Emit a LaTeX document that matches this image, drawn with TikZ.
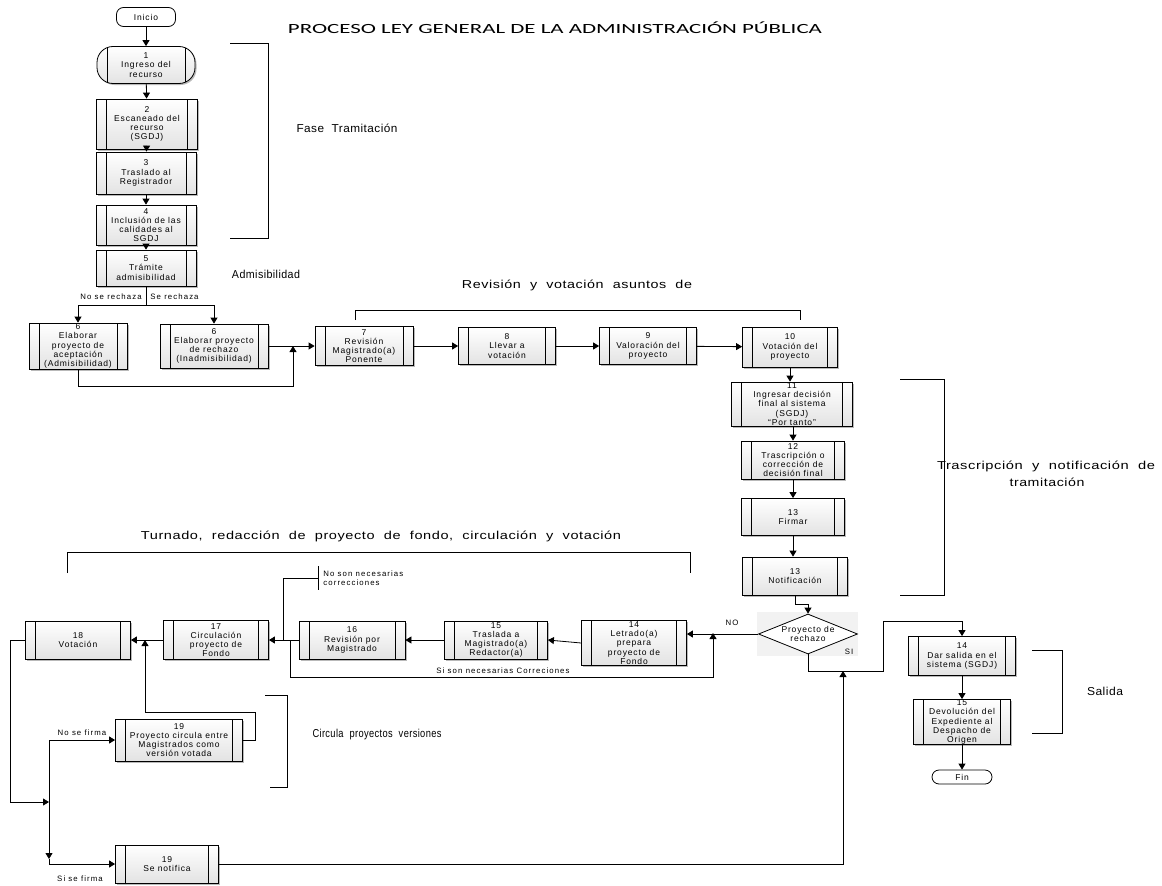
\documentclass[tikz,border=0pt]{standalone}
\usepackage{fontspec}
\setmainfont{Liberation Sans}
\newfontfamily\titlefont{Carlito}
\newfontfamily\labfont[WordSpace=2,LetterSpace=4]{Liberation Sans}
\usetikzlibrary{arrows.meta,shapes.geometric,shadows,calc}
\newcommand{\fitw}[2]{\resizebox{#1}{\height}{#2}}
\tikzset{
  arr/.style={-{Triangle[width=7pt,length=6pt]}},
  sub/.style={draw, line width=0.8pt, top color=white, bottom color=gray!22,
    drop shadow={shadow xshift=1.5pt, shadow yshift=-1.5pt, fill=gray!55, opacity=1},
    inner sep=0pt, align=center, font=\fontsize{8.5}{9.2}\selectfont\addfontfeatures{LetterSpace=10},
    path picture={
      \draw[line width=0.8pt] ([xshift=10pt]path picture bounding box.north west) -- ([xshift=10pt]path picture bounding box.south west);
      \draw[line width=0.8pt] ([xshift=-10pt]path picture bounding box.north east) -- ([xshift=-10pt]path picture bounding box.south east);}},
  term/.style={draw, line width=0.8pt, rounded corners=7pt, fill=white, inner sep=0pt,
    font=\fontsize{8.5}{9}\selectfont\addfontfeatures{LetterSpace=10}},
  dec/.style={draw, line width=0.8pt, diamond, aspect=2.5, inner sep=0pt, fill=white, align=center,
    font=\fontsize{8.5}{9.2}\selectfont\addfontfeatures{LetterSpace=10}},
  lab/.style={font=\labfont\fontsize{11.5}{13}\selectfont, align=center, inner sep=0pt},
  sm/.style={font=\fontsize{7.8}{8.5}\selectfont\addfontfeatures{LetterSpace=14}, inner sep=1pt},
}
\begin{document}
\begin{tikzpicture}[x=1pt,y=-1pt,line width=0.8pt]
\useasboundingbox (0,0) rectangle (1162,886);
% title and labels
\node[font=\titlefont\fontsize{14}{16}\selectfont, inner sep=0pt] (title) at (555,28) {\fitw{534pt}{PROCESO LEY GENERAL DE LA ADMINISTRACIÓN PÚBLICA}};
\node[lab] (lfase) at (347,128) {\fitw{101pt}{Fase Tramitación}};
\node[lab] (ladm) at (266,274) {\fitw{68pt}{Admisibilidad}};
\node[lab] (lrev) at (577,285) {\fitw{230pt}{Revisión y votación asuntos de}};
\node[lab] (ltras) at (1046,466) {\fitw{218pt}{Trascripción y notificación de}};
\node[lab] (ltras2) at (1047,482) {\fitw{75pt}{tramitación}};
\node[lab] (ltur) at (381,536) {\fitw{480pt}{Turnado, redacción de proyecto de fondo, circulación y votación}};
\node[lab] (lcirc) at (377,735) {\fitw{129pt}{Circula proyectos versiones}};
\node[lab] (lsal) at (1105,691) {\fitw{36pt}{Salida}};
% brackets
\draw (230,43) -- (268,43) -- (268,238) -- (230,238);
\draw (355,320) -- (355,310) -- (800,310) -- (800,320);
\draw (900,379) -- (944,379) -- (944,595) -- (900,595);
\draw (67,573) -- (67,552) -- (690,552) -- (690,573);
\draw (265,695) -- (287,695) -- (287,787) -- (270,787);
\draw (1032,650) -- (1062,650) -- (1062,733) -- (1032,733);
% nodes
\node[term, minimum width=59, minimum height=19] (ini) at (146,17) {Inicio};
\node[sub, rounded corners=16pt, minimum width=98, minimum height=37] (b1) at (146,65) {1\\Ingreso del\\recurso};
\node[sub, minimum width=101, minimum height=50] (b2) at (147,124) {2\\Escaneado del\\recurso\\(SGDJ)};
\node[sub, minimum width=100, minimum height=42] (b3) at (146,173) {3\\Traslado al\\Registrador};
\node[sub, minimum width=100, minimum height=40] (b4) at (146,225) {4\\Inclusión de las\\calidades al\\SGDJ};
\node[sub, minimum width=100, minimum height=36] (b5) at (146,268) {5\\Trámite\\admisibilidad};
\node[sub, minimum width=98, minimum height=46] (b6a) at (78,346) {6\\Elaborar\\proyecto de\\aceptación\\(Admisibilidad)};
\node[sub, minimum width=108, minimum height=44] (b6b) at (214,346) {6\\Elaborar proyecto\\de rechazo\\(Inadmisibilidad)};
\node[sub, minimum width=98, minimum height=39] (b7) at (364,346) {7\\Revisión\\Magistrado(a)\\Ponente};
\node[sub, minimum width=97, minimum height=37] (b8) at (507,346) {8\\Llevar a\\votación};
\node[sub, minimum width=97, minimum height=37] (b9) at (648,346) {9\\Valoración del\\proyecto};
\node[sub, minimum width=95, minimum height=40] (b10) at (790,347) {10\\Votación del\\proyecto};
\node[sub, minimum width=121, minimum height=44] (b11) at (792,404) {11\\Ingresar decisión\\final al sistema\\(SGDJ)\\“Por tanto”};
\node[sub, minimum width=103, minimum height=38] (b12) at (793,460) {12\\Trascripción o\\corrección de\\decisión final};
\node[sub, minimum width=103, minimum height=37] (b13) at (793,517) {13\\Firmar};
\node[sub, minimum width=105, minimum height=38] (b13n) at (795,576) {13\\Notificación};
\fill[gray!10] (757,612) rectangle (858,656);
\node[dec, minimum width=99, minimum height=40] (dia) at (808,634) {Proyecto de\\rechazo};
\node[sub, minimum width=105, minimum height=45] (b14) at (634,643) {14\\Letrado(a)\\prepara\\proyecto de\\Fondo};
\node[sub, minimum width=103, minimum height=38] (b15) at (496,640) {15\\Traslada a\\Magistrado(a)\\Redactor(a)};
\node[sub, minimum width=106, minimum height=38] (b16) at (352,640) {16\\Revisión por\\Magistrado};
\node[sub, minimum width=105, minimum height=39] (b17) at (216,640) {17\\Circulación\\proyecto de\\Fondo};
\node[sub, minimum width=105, minimum height=38] (b18) at (78,640) {18\\Votación};
\node[sub, minimum width=127, minimum height=42] (b19a) at (179,740) {19\\Proyecto circula entre\\Magistrados como\\versión votada};
\node[sub, minimum width=103, minimum height=38] (b19b) at (167,864) {19\\Se notifica};
\node[sub, minimum width=107, minimum height=39] (b14b) at (962,656) {14\\Dar salida en el\\sistema (SGDJ)};
\node[sub, minimum width=97, minimum height=45] (b15b) at (962,722) {15\\Devolución del\\Expediente al\\Despacho de\\Origen};
\node[term, minimum width=60, minimum height=14] (fin) at (962,777) {Fin};
% small labels
\node[sm, anchor=east] (lnr) at (143,297) {No se rechaza};
\node[sm, anchor=west] (lsr) at (149,297) {Se rechaza};
\node[sm] (lno) at (732,623) {NO};
\node[sm] (lsi) at (849,652) {SI};
\node[sm, anchor=west, align=left, font=\fontsize{7.8}{9}\selectfont\addfontfeatures{LetterSpace=14}] (lnsn) at (322,578) {No son necesarias\\correcciones};
\node[sm] (lssn) at (503,671) {Si son necesarias Correciones};
\node[sm] (lnsf) at (82,733) {No se firma};
\node[sm] (lssf) at (80,879) {Si se firma};
% coordinates
\coordinate (j5) at (146,305);
\coordinate (j6) at (293,346);
\coordinate (jc) at (713,633);
\coordinate (c16) at (290,640);
\coordinate (j18) at (145,640);
\coordinate (jf) at (49,802);
\coordinate (js) at (843,671);
% connectors
\draw[arr] (ini) -- (b1);
\draw[arr] (b1) -- (b2);
\draw[arr] (b2) -- (b3);
\draw[arr] (b3) -- (b4);
\draw[arr] (b4) -- (b5);
\draw (b5.south) -- (j5);
\draw[arr] (j5) -| (b6a.north);
\draw[arr] (j5) -| (b6b.north);
\draw (b6b.east) -- (j6);
\draw[arr] (b6a.south) -- ++(0,17) -| (j6);
\draw[arr] (j6) -- (b7.west);
\draw[arr] (b7) -- (b8);
\draw[arr] (b8) -- (b9);
\draw[arr] (b9) -- (b10);
\draw[arr] (b10.south) -- (b10.south |- b11.north);
\draw[arr] (b11.south -| b12.north) -- (b12.north);
\draw[arr] (b12) -- (b13);
\draw[arr] (b13) -- (b13.south |- b13n.north);
\draw[arr] (b13n.south) -- ++(0,9) -| (dia.north);
\draw[arr] (dia.west) -- (dia.west -| b14.east);
\draw[arr] (b14.west) -- (b15.east);
\draw[arr] (b15) -- (b16);
\draw[arr] (b16) -- (b17);
\draw[arr] (b17) -- (b18);
\draw[arr] (c16) -- (290,677) -| (jc);
\draw (283,640) -- (283,578) -- (318,578);
\draw (318,566) -- (318,590);
\draw[arr] (b19a.east) -- (255,740) |- (145,712) -- (j18);
\draw[arr] (b18.west) -- (10,640) |- (jf);
\draw[arr] (jf) |- (b19a.west);
\draw[arr] (jf) -- (49,859);
\draw[arr] (49,859) |- (b19b.west);
\draw[arr] (b19b.east) -| (js);
\draw[arr] (dia.south) |- (883,671) |- (962,621) -- (b14b.north);
\draw[arr] (b14b) -- (b15b);
\draw[arr] (b15b) -- (fin);
\end{tikzpicture}
\end{document}
